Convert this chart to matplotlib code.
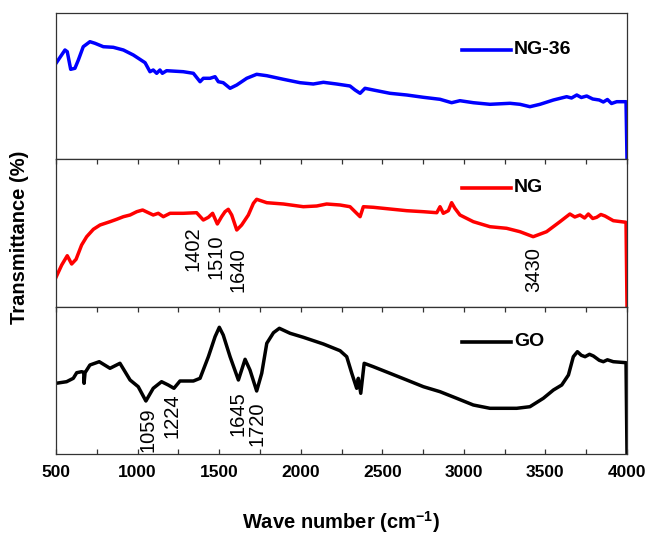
import matplotlib
matplotlib.use("Agg")
import matplotlib.pyplot as plt
from matplotlib.ticker import MultipleLocator

plt.rcParams['font.family'] = ['Liberation Sans', 'DejaVu Sans']
plt.rcParams['mathtext.fontset'] = 'custom'
plt.rcParams['mathtext.rm'] = 'Liberation Sans'
plt.rcParams['mathtext.bf'] = 'Liberation Sans:bold'

# ---------------- data (arbitrary transmittance units) ----------------
ng36_wn = [500, 555, 569, 590, 616, 637, 667, 708, 739, 790, 851, 913, 974, 1046, 1076, 1096, 1117,
           1137, 1152, 1178, 1280, 1342, 1383, 1403, 1444, 1475, 1495, 1525, 1567, 1608, 1669, 1730,
           1792, 1894, 1996, 2077, 2139, 2220, 2302, 2333, 2364, 2394, 2445, 2547, 2650, 2752, 2854,
           2925, 2976, 3058, 3160, 3283, 3344, 3405, 3467, 3549, 3630, 3660, 3692, 3720, 3753, 3790,
           3830, 3855, 3880, 3905, 3937, 3994, 4000]
ng36_t = [95.7, 109, 107.3, 89.7, 90.7, 99, 112.3, 117.3, 115.7, 112.3, 111.7, 109, 104, 96.3, 87.3,
          89, 85.7, 89, 85.7, 88.3, 87.3, 85.7, 77.3, 80.7, 80.7, 82.3, 77.3, 76.3, 70.7, 74, 80.7, 84.7,
          83.3, 79.7, 76.3, 75, 76.7, 75, 73, 69, 65.7, 70.7, 69, 65.7, 64, 61.7, 59.7,
          56.3, 58.3, 56.3, 54.7, 55.7, 54.7, 52.3, 54.7, 59, 62.3, 61.0, 64.0, 61.5, 63.0, 60.0,
          59.0, 57.0, 59.5, 55.5, 57.3, 57.3, 0]

ng_wn = [500, 535, 569, 596, 623, 657, 688, 729, 770, 831, 872, 913, 954, 995, 1031, 1066, 1096, 1127,
         1158, 1199, 1280, 1362, 1403, 1434, 1460, 1489, 1515, 1536, 1556, 1577, 1608, 1638, 1679,
         1710, 1730, 1792, 1894, 2016, 2098, 2159, 2241, 2302, 2333, 2364, 2384, 2445, 2547, 2650,
         2752, 2834, 2854, 2874, 2905, 2925, 2945, 2976, 3058, 3160, 3262, 3344, 3425, 3507, 3589,
         3650, 3680, 3712, 3740, 3763, 3790, 3814, 3840, 3865, 3916, 3994, 4000]
ng_t = [29.2, 41.5, 50.8, 42.5, 47.2, 61.5, 69.8, 77.2, 81.5, 84.8, 87.2, 89.8, 91.5, 94.8, 96.5,
        93.8, 91.5, 93.2, 89.8, 93.2, 93.2, 93.8, 86.5, 89.2, 93.2, 82.5, 89.8, 94.8, 97.2, 91.5,
        76.5, 81.5, 91.5, 103.2, 107.2, 103.8, 102.5, 99.8, 100.5, 102.5, 101.5, 99.8, 94.8, 89.8,
        99.8, 99.2, 97.5, 95.8, 94.8, 93.8, 99.8, 93.2, 95.8, 103.8, 98.2, 91.5, 84.8, 79.8, 78.2,
        74.8, 69.8, 74.8, 84.8, 92.5, 89.5, 91.5, 88.5, 92.5, 88.0, 89.2, 92.0, 90.5, 85.8, 84.2, 0]

go_wn = [500, 565, 606, 627, 657, 670, 672, 678, 708, 765, 831, 892, 954, 1004, 1051, 1096, 1147,
         1188, 1223, 1260, 1342, 1383, 1434, 1475, 1501, 1525, 1567, 1618, 1659, 1689, 1730, 1761,
         1792, 1833, 1869, 1935, 2016, 2139, 2241, 2282, 2313, 2343, 2353, 2368, 2389, 2445, 2547,
         2650, 2752, 2854, 2956, 3058, 3160, 3324, 3405, 3487, 3549, 3600, 3641, 3671, 3696, 3720,
         3743, 3770, 3794, 3830, 3855, 3880, 3916, 3994, 4000]
go_t = [71, 72.6, 76, 81.6, 82.6, 82.0, 71, 81.6, 89.3, 92.6, 86, 91, 74.3, 67.6, 53.3, 66, 72.6,
        69.3, 66, 73.3, 73.3, 76, 97.6, 117.6, 127, 119.3, 97.6, 74.3, 95, 84.3, 63.3, 81,
        111, 121.6, 126, 121, 117, 110.3, 103.6, 97.6, 81, 66, 76, 61, 91, 87.6, 81,
        74.3, 67.6, 62.6, 56, 49.3, 46, 46, 47.6, 56, 64.3, 69.3, 79.3, 97.6, 102.6, 99.0,
        97.6, 100.0, 98.3, 94.0, 92.6, 94.5, 92.6, 91.6, 0]

series_labels = ["NG-36", "NG", "GO"]
series_colors = ["#0000ff", "#ff0000", "#000000"]

ng_peaks = [1402, 1510, 1640, 3430]
ng_peak_x = [1340, 1481, 1616, 3428]
ng_peak_y = [57.5, 49.5, 36.5, 36.5]
go_peaks = [1059, 1224, 1645, 1720]
go_peak_x = [1064, 1211, 1616, 1732]
go_peak_y = [24.3, 38.3, 40.3, 30.3]

xticks = [500, 1000, 1500, 2000, 2500, 3000, 3500, 4000]

# ---------------- figure ----------------
fig = plt.figure(figsize=(6.46, 5.34), dpi=100)
left, width = 56 / 646, 571 / 646
rects = [(left, 1 - 159 / 534, width, 146.5 / 534),
         (left, 1 - 306.5 / 534, width, 147.5 / 534),
         (left, 1 - 454.3 / 534, width, 147.8 / 534)]
ylims = [146.5, 147.5, 147.8]
data = [(ng36_wn, ng36_t), (ng_wn, ng_t), (go_wn, go_t)]
leg_y = [50, 188, 341.7]  # pixel centres of legend entries

axes = []
for i, (r, yl, (wn, t)) in enumerate(zip(rects, ylims, data)):
    ax = fig.add_axes(r)
    ax.plot(wn, t, color=series_colors[i], lw=2.5, solid_joinstyle='round')
    ax.set_xlim(500, 4000)
    ax.set_ylim(0, yl)
    ax.set_yticks([])
    ax.xaxis.set_major_locator(MultipleLocator(500))
    ax.xaxis.set_minor_locator(MultipleLocator(250))
    for s in ax.spines.values():
        s.set_linewidth(0.9)
        s.set_color('#333333')
    if i == 0:
        ax.tick_params(axis='x', which='both', bottom=False, top=False, labelbottom=False)
    elif i == 1:
        ax.tick_params(axis='x', which='both', direction='in', bottom=False, top=True,
                       labelbottom=False, length=3.5, width=0.9, color='#333333')
    else:
        ax.tick_params(axis='x', which='both', direction='in', bottom=True, top=True,
                       length=3.5, width=0.9, color='#333333')
        ax.set_xticks(xticks)
        ax.set_xticklabels([str(v) for v in xticks], fontsize=12.5, fontweight='bold')
        ax.tick_params(axis='x', which='major', pad=8)
    # legend-like entry
    yfig = 1 - leg_y[i] / 534
    fig.add_artist(plt.Line2D([462 / 646, 511 / 646], [yfig, yfig], color=series_colors[i],
                              lw=2.6, transform=fig.transFigure))
    fig.text(514 / 646, yfig, series_labels[i], fontsize=14, fontweight='bold',
             va='center', ha='left')
    axes.append(ax)

for lab, x, y in zip(ng_peaks, ng_peak_x, ng_peak_y):
    axes[1].text(x, y, str(lab), rotation=90, ha='center', va='center', fontsize=14.5)
for lab, x, y in zip(go_peaks, go_peak_x, go_peak_y):
    axes[2].text(x, y, str(lab), rotation=90, ha='center', va='center', fontsize=14.5)

fig.text(20 / 646, 1 - 237 / 534, "Transmittance (%)", rotation=90, ha='center', va='center',
         fontsize=14.5, fontweight='bold')
fig.text(341 / 646, 1 - 522 / 534, "Wave number (cm$^{\\mathbf{-1}}$)", ha='center', va='center',
         fontsize=14.5, fontweight='bold')

fig.savefig("out.png", dpi=100)
